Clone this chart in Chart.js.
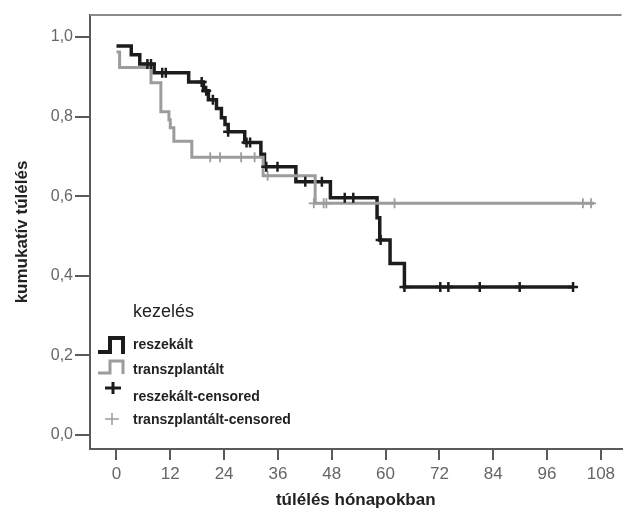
<!DOCTYPE html>
<html>
<head>
<meta charset="utf-8">
<script src="https://cdn.jsdelivr.net/npm/chart.js@4.4.1/dist/chart.umd.min.js"></script>
<style>
  html, body { margin: 0; padding: 0; background: #fff; }
  #wrap { width: 629px; height: 513px; }
</style>
</head>
<body>
<div id="wrap"><canvas id="km" width="629" height="513"></canvas></div>
<script>
// Kaplan-Meier curves (months / cumulative survival)
const reszekaltTime = [0, 3.3, 5.2, 8.4, 16.1, 19.4, 20.5, 22.3, 23.4, 24.2, 24.9, 28.6, 32.2, 33.0, 40.0, 47.7, 58.1, 58.7, 61.0, 64.2, 101.8];
const reszekaltSurv = [0.977, 0.955, 0.932, 0.910, 0.887, 0.865, 0.842, 0.820, 0.797, 0.780, 0.762, 0.735, 0.705, 0.674, 0.636, 0.596, 0.546, 0.490, 0.431, 0.372, 0.372];

const transzTime = [0, 0.7, 7.7, 9.9, 11.7, 12.0, 12.8, 16.8, 32.7, 44.3, 106.5];
const transzSurv = [0.962, 0.923, 0.885, 0.812, 0.792, 0.772, 0.738, 0.698, 0.651, 0.582, 0.582];

// censored cases
const reszekaltCensTime = [6.9, 7.7, 10.2, 11.0, 19.0, 20.0, 21.5, 24.9, 29.0, 29.8, 33.4, 35.9, 42.1, 45.8, 50.9, 52.8, 58.9, 64.2, 72.2, 74.0, 81.0, 89.9, 101.8];
const reszekaltCensSurv = [0.932, 0.932, 0.910, 0.910, 0.887, 0.865, 0.842, 0.762, 0.735, 0.735, 0.674, 0.674, 0.636, 0.636, 0.596, 0.596, 0.490, 0.372, 0.372, 0.372, 0.372, 0.372, 0.372];

const transzCensTime = [20.9, 23.1, 27.8, 30.8, 33.7, 44.0, 46.2, 46.8, 62.0, 104.0, 105.8];
const transzCensSurv = [0.698, 0.698, 0.698, 0.698, 0.651, 0.582, 0.582, 0.582, 0.582, 0.582, 0.582];

const xTicks = [0, 12, 24, 36, 48, 60, 72, 84, 96, 108];
const yTicks = [0, 0.2, 0.4, 0.6, 0.8, 1.0];

const legendTitle = 'kezelés';
const legendLabels = ['reszekált', 'transzplantált', 'reszekált-censored', 'transzplantált-censored'];

const BLACK = '#1c1c1c';
const GRAY = '#9c9c9c';
const AXIS = '#5a5a5a';
const FONT = '"Liberation Sans", Arial, sans-serif';

const toPoints = (xs, ys) => xs.map((x, i) => ({ x: x, y: ys[i] }));

// top frame line + legend inside plot
const framePlugin = {
  id: 'frame',
  afterDraw(chart) {
    const ctx = chart.ctx;
    const a = chart.chartArea;
    ctx.save();
    ctx.strokeStyle = '#8a8a8a';
    ctx.lineWidth = 2;
    ctx.beginPath();
    ctx.moveTo(a.left, a.top);
    ctx.lineTo(a.right, a.top);
    ctx.stroke();

    const L = a.left, B = a.bottom;
    ctx.textBaseline = 'middle';
    ctx.fillStyle = '#222';
    ctx.font = '18px ' + FONT;
    ctx.fillText(legendTitle, L + 43, B - 137);

    ctx.font = 'bold 14px ' + FONT;
    const rows = [B - 104, B - 79, B - 52, B - 29];
    legendLabels.forEach((t, i) => ctx.fillText(t, L + 43, rows[i]));

    // step icons
    ctx.lineJoin = 'miter';
    ctx.strokeStyle = BLACK;
    ctx.lineWidth = 4;
    ctx.beginPath();
    ctx.moveTo(L + 8, B - 97);
    ctx.lineTo(L + 20, B - 97);
    ctx.lineTo(L + 20, B - 111);
    ctx.lineTo(L + 33, B - 111);
    ctx.lineTo(L + 33, B - 95);
    ctx.stroke();

    ctx.strokeStyle = GRAY;
    ctx.lineWidth = 3;
    ctx.beginPath();
    ctx.moveTo(L + 8, B - 76);
    ctx.lineTo(L + 20, B - 76);
    ctx.lineTo(L + 20, B - 88);
    ctx.lineTo(L + 33, B - 88);
    ctx.lineTo(L + 33, B - 75);
    ctx.stroke();

    // cross icons
    ctx.strokeStyle = BLACK;
    ctx.lineWidth = 3;
    ctx.beginPath();
    ctx.moveTo(L + 15, B - 61); ctx.lineTo(L + 31, B - 61);
    ctx.moveTo(L + 23, B - 67); ctx.lineTo(L + 23, B - 55);
    ctx.stroke();

    ctx.strokeStyle = GRAY;
    ctx.lineWidth = 1.5;
    ctx.beginPath();
    ctx.moveTo(L + 15, B - 30); ctx.lineTo(L + 29, B - 30);
    ctx.moveTo(L + 22, B - 36); ctx.lineTo(L + 22, B - 24);
    ctx.stroke();
    ctx.restore();
  }
};

const ctx = document.getElementById('km').getContext('2d');
new Chart(ctx, {
  type: 'scatter',
  data: {
    datasets: [
      {
        label: 'reszekált-censored',
        data: toPoints(reszekaltCensTime, reszekaltCensSurv),
        showLine: false,
        pointStyle: 'cross',
        pointRadius: 5,
        borderColor: BLACK,
        borderWidth: 2.5,
      },
      {
        label: 'transzplantált-censored',
        data: toPoints(transzCensTime, transzCensSurv),
        showLine: false,
        pointStyle: 'cross',
        pointRadius: 5,
        borderColor: GRAY,
        borderWidth: 1.8,
      },
      {
        label: 'transzplantált',
        data: toPoints(transzTime, transzSurv),
        showLine: true,
        stepped: true,
        pointRadius: 0,
        borderColor: GRAY,
        borderWidth: 3,
        fill: false,
      },
      {
        label: 'reszekált',
        data: toPoints(reszekaltTime, reszekaltSurv),
        showLine: true,
        stepped: true,
        pointRadius: 0,
        borderColor: BLACK,
        borderWidth: 3.5,
        fill: false,
      },
    ],
  },
  options: {
    responsive: false,
    animation: false,
    layout: { padding: { top: 15, right: 0, left: 0, bottom: 0 } },
    plugins: {
      legend: { display: false },
      tooltip: { enabled: false },
    },
    scales: {
      x: {
        type: 'linear',
        min: -5.9,
        max: 112.6,
        afterBuildTicks: (s) => { s.ticks = xTicks.map(v => ({ value: v })); },
        afterFit: (s) => { s.height = 64; },
        border: { display: true, color: AXIS, width: 2 },
        grid: { drawOnChartArea: false, drawTicks: true, tickLength: 11, color: AXIS, lineWidth: 2 },
        ticks: { color: '#666', font: { family: FONT, size: 17 }, padding: 4, maxRotation: 0 },
        title: {
          display: true,
          text: 'túlélés hónapokban',
          color: '#222',
          font: { family: FONT, size: 17, weight: 'bold' },
          padding: { top: 0, bottom: 2 },
        },
      },
      y: {
        type: 'linear',
        min: -0.035,
        max: 1.055,
        afterBuildTicks: (s) => { s.ticks = yTicks.map(v => ({ value: v })); },
        afterFit: (s) => { s.width = 90; },
        border: { display: true, color: AXIS, width: 2 },
        grid: { drawOnChartArea: false, drawTicks: true, tickLength: 15, color: AXIS, lineWidth: 2 },
        ticks: {
          color: '#666',
          font: { family: FONT, size: 16 },
          padding: 2,
          callback: (v) => Number(v).toFixed(1).replace('.', ','),
        },
        title: {
          display: true,
          text: 'kumukatív túlélés',
          color: '#222',
          font: { family: FONT, size: 17, weight: 'bold' },
          padding: { top: 12, bottom: 0 },
        },
      },
    },
  },
  plugins: [framePlugin],
});
</script>
</body>
</html>
